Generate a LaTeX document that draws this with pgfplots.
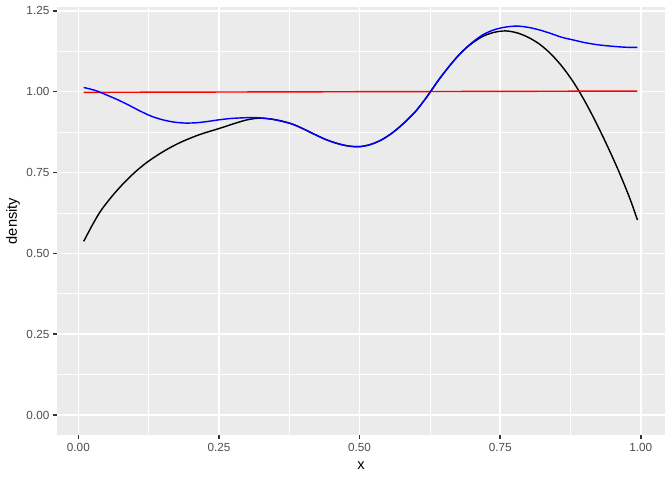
\documentclass[border=0pt]{standalone}
\usepackage{fontspec}
\setmainfont{Liberation Sans}
\usepackage{pgfplots}
\pgfplotsset{compat=1.18}
\definecolor{panelbg}{HTML}{EBEBEB}
\definecolor{tickgray}{HTML}{333333}
\definecolor{labelgray}{HTML}{4D4D4D}
\definecolor{ggred}{HTML}{FF0000}
\definecolor{ggblue}{HTML}{0000FF}
\begin{document}
\begin{tikzpicture}
\useasboundingbox (0,0) rectangle (504pt,360pt);
\begin{axis}[
    axis on top=false,
    at={(42.75pt,33.75pt)}, anchor=south west,
    scale only axis, width=456pt, height=321pt,
    xmin=-0.038, xmax=1.043,
    ymin=-0.062, ymax=1.262,
    axis background/.style={fill=panelbg},
    axis line style={draw=none},
    xtick={0,0.25,0.5,0.75,1},
    xticklabels={0.00,0.25,0.50,0.75,1.00},
    ytick={0,0.25,0.5,0.75,1,1.25},
    yticklabels={0.00,0.25,0.50,0.75,1.00,1.25},
    minor xtick={0.125,0.375,0.625,0.875},
    minor ytick={0.125,0.375,0.625,0.875,1.125},
    xtick pos=lower, ytick pos=lower,
    tick align=outside,
    major tick length=2.75pt,
    minor tick length=0pt,
    tick style={tickgray, line width=1.07pt},
    grid=both,
    major grid style={white, line width=1.07pt},
    minor grid style={white, line width=0.53pt},
    tick label style={font=\fontsize{8.8}{10}\selectfont, text=labelgray, inner sep=0pt},
    xticklabel style={anchor=north, yshift=-3.3pt},
    yticklabel style={anchor=east, xshift=-2.8pt},
    xlabel={x},
    ylabel={density},
    xlabel style={at={(axis description cs:0.5,-0.072)}, anchor=center, font=\fontsize{11}{13}\selectfont},
    ylabel style={at={(axis description cs:-0.0724,0.5)}, anchor=center, rotate=0, font=\fontsize{11}{13}\selectfont},
]
% kernel estimate
\addplot[draw=black, line width=1.07pt, smooth, mark=none] coordinates {
(0.0095,0.537)(0.025,0.588)(0.04,0.632)(0.06,0.677)(0.08,0.716)(0.10,0.750)
(0.12,0.779)(0.14,0.803)(0.16,0.824)(0.18,0.842)(0.20,0.857)(0.22,0.870)
(0.25,0.886)(0.28,0.903)(0.30,0.913)(0.32,0.918)(0.34,0.916)(0.36,0.910)
(0.38,0.900)(0.40,0.885)(0.42,0.868)(0.44,0.852)(0.46,0.840)(0.48,0.832)
(0.50,0.830)(0.52,0.837)(0.54,0.852)(0.56,0.875)(0.58,0.905)(0.60,0.940)
(0.62,0.985)(0.64,1.035)(0.66,1.080)(0.68,1.120)(0.70,1.150)(0.72,1.172)
(0.74,1.184)(0.76,1.188)(0.78,1.182)(0.80,1.168)(0.82,1.147)(0.84,1.117)
(0.86,1.078)(0.88,1.030)(0.90,0.972)(0.92,0.906)(0.94,0.834)(0.96,0.757)
(0.98,0.672)(0.994,0.603)
};
% uniform density, read as 1.00 (within reading error)
\addplot[color=ggred, line width=1.07pt, mark=none] coordinates {
(0.0095,0.998)(0.994,1.002)
};
% boundary corrected
\addplot[draw=ggblue, line width=1.07pt, smooth, mark=none] coordinates {
(0.0095,1.013)(0.03,1.004)(0.05,0.990)(0.07,0.975)(0.09,0.958)(0.11,0.940)
(0.13,0.924)(0.15,0.913)(0.17,0.906)(0.19,0.903)(0.21,0.904)(0.23,0.908)
(0.25,0.913)(0.27,0.917)(0.29,0.919)(0.31,0.920)(0.33,0.918)(0.35,0.913)
(0.38,0.900)(0.40,0.885)(0.42,0.868)(0.44,0.852)(0.46,0.840)(0.48,0.832)
(0.50,0.830)(0.52,0.837)(0.54,0.852)(0.56,0.875)(0.58,0.905)(0.60,0.940)
(0.62,0.985)(0.64,1.035)(0.66,1.080)(0.68,1.120)(0.70,1.152)(0.72,1.177)
(0.74,1.192)(0.76,1.200)(0.78,1.203)(0.80,1.199)(0.82,1.191)(0.84,1.180)
(0.86,1.168)(0.88,1.160)(0.90,1.152)(0.92,1.146)(0.94,1.142)(0.96,1.139)
(0.98,1.137)(0.994,1.137)
};
\end{axis}
\end{tikzpicture}
\end{document}
